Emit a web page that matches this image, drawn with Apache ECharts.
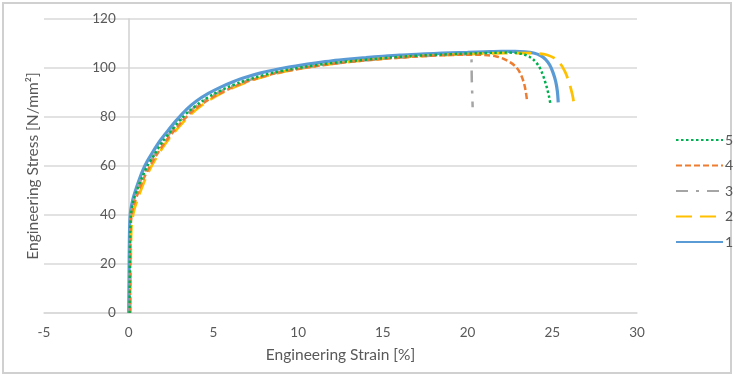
<!DOCTYPE html>
<html>
<head>
<meta charset="utf-8">
<script src="https://cdn.jsdelivr.net/npm/echarts@6/dist/echarts.min.js"></script>
<style>
html,body{margin:0;padding:0;background:#fff;}
#chart{width:734px;height:376px;}
</style>
</head>
<body>
<div id="chart"></div>
<script>
// Series names (legend order top to bottom is 5,4,3,2,1)
var seriesNames = ['1', '2', '3', '4', '5'];
var legendOrder = ['5', '4', '3', '2', '1'];
var xTicks = [-5, 0, 5, 10, 15, 20, 25, 30];
var yTicks = [0, 20, 40, 60, 80, 100, 120];
var xTitle = 'Engineering Strain [%]';
var yTitle = 'Engineering Stress [N/mm²]';

// [strain %, stress N/mm2]
var s1 = [[0,0],[0.02,15],[0.04,30],[0.07,38],[0.12,42],[0.25,46.5],[0.45,51],[0.65,55],[0.85,58.5],[1.1,62],[1.4,65.5],[1.85,70.3],[2.3,74.3],[2.8,78.5],[3.4,83],[4.0,86.5],[4.7,89.6],[5.4,92.1],[6.2,94.5],[7.0,96.4],[7.75,97.9],[8.5,99.1],[9.3,100.2],[10.1,101.1],[11.0,102],[12.0,102.9],[13.0,103.6],[14.0,104.2],[15.0,104.8],[16.0,105.3],[17.0,105.6],[18.0,105.9],[19.0,106.2],[20.0,106.4],[21.0,106.6],[22.0,106.8],[22.8,106.8],[23.4,106.6],[23.9,106.1],[24.3,105.1],[24.6,103.5],[24.85,101.2],[25.05,98],[25.2,94.5],[25.3,90.5],[25.35,86]];
var s2 = [[0.1,0],[0.11,15],[0.13,28],[0.17,36],[0.3,41.5],[0.55,47],[0.85,52.5],[1.2,58],[1.6,63],[2.1,68.5],[2.6,73],[3.1,77],[3.7,81.3],[4.4,85.2],[5.1,88.3],[5.9,91.2],[6.7,93.5],[7.6,95.7],[8.6,97.6],[9.6,99.1],[10.6,100.3],[11.6,101.3],[12.6,102.2],[13.6,102.9],[14.6,103.6],[15.6,104.1],[16.6,104.6],[17.6,105],[18.6,105.3],[19.6,105.6],[20.6,105.8],[21.6,106],[22.6,106.1],[23.5,106.1],[24.2,105.9],[24.7,105.3],[25.1,104.1],[25.45,102],[25.75,98.5],[25.95,95],[26.1,91.5],[26.22,88],[26.3,84.2]];
var s3 = [[0.06,0],[0.07,18],[0.09,32],[0.13,40],[0.28,45.5],[0.5,50.5],[0.8,55.5],[1.15,60.3],[1.55,65],[2.05,70],[2.55,74.4],[3.05,78.5],[3.65,82.6],[4.35,86.2],[5.05,89.1],[5.85,91.8],[6.65,94],[7.55,96],[8.55,97.8],[9.55,99.2],[10.55,100.4],[11.55,101.3],[12.55,102.1],[13.55,102.8],[14.55,103.5],[15.55,104],[16.55,104.5],[17.55,104.9],[18.55,105.3],[19.5,105.5],[20.2,105.6],[20.25,95],[20.3,84]];
var s4 = [[0.08,0],[0.09,18],[0.1,30],[0.15,38.5],[0.3,44],[0.55,49],[0.85,54.3],[1.2,59.3],[1.6,64],[2.1,69.3],[2.6,73.7],[3.1,77.8],[3.7,82],[4.4,85.7],[5.1,88.6],[5.9,91.4],[6.7,93.7],[7.6,95.8],[8.6,97.7],[9.6,99.1],[10.6,100.3],[11.6,101.3],[12.6,102.1],[13.6,102.9],[14.6,103.5],[15.6,104],[16.6,104.5],[17.6,104.9],[18.6,105.2],[19.6,105.4],[20.5,105.4],[21.2,105.2],[21.7,104.7],[22.1,103.8],[22.5,102.4],[22.85,100.5],[23.1,98],[23.3,94.5],[23.42,91],[23.5,87.2]];
var s5 = [[0.05,0],[0.06,18],[0.08,32],[0.12,39.5],[0.25,45],[0.5,50.5],[0.8,55.5],[1.1,60],[1.5,64.5],[2.0,70],[2.5,74.3],[3.0,78.5],[3.6,82.6],[4.3,86.3],[5.0,89.3],[5.8,92],[6.6,94.2],[7.5,96.2],[8.5,98],[9.5,99.4],[10.5,100.6],[11.5,101.6],[12.5,102.4],[13.5,103.1],[14.5,103.7],[15.5,104.3],[16.5,104.8],[17.5,105.2],[18.5,105.5],[19.5,105.8],[20.5,106],[21.5,106.2],[22.3,106.3],[22.9,106.1],[23.3,105.6],[23.65,104.6],[23.95,103],[24.2,100.8],[24.4,98],[24.55,95],[24.7,91.5],[24.82,88],[24.9,84.9]];

var seriesData = [s1, s2, s3, s4, s5];
var colors = ['#5B9BD5', '#FFC000', '#A5A5A5', '#ED7D31', '#00B050'];
var lineTypes = ['solid', [16, 8], [12, 8, 3, 8], [6, 3], [2.5, 2.5]];
var lineWidths = [3.2, 2.75, 2.5, 2.5, 2.5];

var font = 'Lato, "Open Sans", sans-serif';
var textColor = '#595959';

var series = seriesNames.map(function (n, i) {
  return {
    name: n,
    type: 'line',
    data: seriesData[i],
    symbol: 'none',
    smooth: 0.3,
    lineStyle: { color: colors[i], width: lineWidths[i], type: lineTypes[i], cap: 'butt' },
    itemStyle: { color: colors[i] },
    z: 2 + i
  };
});

var chart = echarts.init(document.getElementById('chart'), null, { renderer: 'canvas' });
chart.setOption({
  animation: false,
  backgroundColor: '#fff',
  textStyle: { fontFamily: font, color: textColor },
  graphic: [{
    type: 'rect',
    shape: { x: 3, y: 3, width: 728, height: 370 },
    style: { fill: 'none', stroke: '#d0d0d0', lineWidth: 2 },
    silent: true
  }, {
    type: 'text',
    x: 33,
    y: 166,
    rotation: Math.PI / 2,
    style: {
      text: yTitle,
      font: '15.5px ' + font,
      fill: textColor,
      align: 'center',
      verticalAlign: 'middle'
    },
    silent: true
  }],
  grid: { left: 44, right: 97, top: 19, bottom: 63, containLabel: false, outerBoundsMode: 'none' },
  legend: {
    orient: 'vertical',
    left: 675,
    top: 133,
    padding: 0,
    itemWidth: 47,
    itemHeight: 14,
    itemGap: 11.5,
    data: legendOrder,
    itemStyle: { color: 'rgba(0,0,0,0)', borderWidth: 0, opacity: 0 },
    textStyle: { fontFamily: font, color: textColor, fontSize: 14, padding: [0, 0, 0, -3] }
  },
  xAxis: {
    type: 'value',
    min: xTicks[0],
    max: xTicks[xTicks.length - 1],
    interval: 5,
    name: xTitle,
    nameLocation: 'middle',
    nameGap: 34,
    nameMoveOverlap: false,
    nameTextStyle: { fontFamily: font, color: textColor, fontSize: 15.5 },
    axisLine: { show: true, onZero: false, lineStyle: { color: '#d9d9d9', width: 1.5 } },
    axisTick: { show: false },
    splitLine: { show: false },
    axisLabel: { color: textColor, fontFamily: font, fontSize: 13.5, margin: 13 }
  },
  yAxis: {
    type: 'value',
    min: yTicks[0],
    max: yTicks[yTicks.length - 1],
    interval: 20,
    offset: 0,
    axisLine: { show: true, onZero: false, lineStyle: { color: '#d0d0d0', width: 1.5 } },
    axisTick: { show: false },
    splitLine: { show: true, lineStyle: { color: '#d9d9d9', width: 1.5 } },
    axisLabel: { color: textColor, fontFamily: font, fontSize: 13.5, margin: 13 }
  },
  series: series
});

// Place the vertical axis where strain = 0 (as in the original, axis crosses at x = 0)
var pxZero = chart.convertToPixel({ xAxisIndex: 0 }, 0);
var pxMin = chart.convertToPixel({ xAxisIndex: 0 }, xTicks[0]);
chart.setOption({ yAxis: { offset: -(pxZero - pxMin) } });
</script>
</body>
</html>
